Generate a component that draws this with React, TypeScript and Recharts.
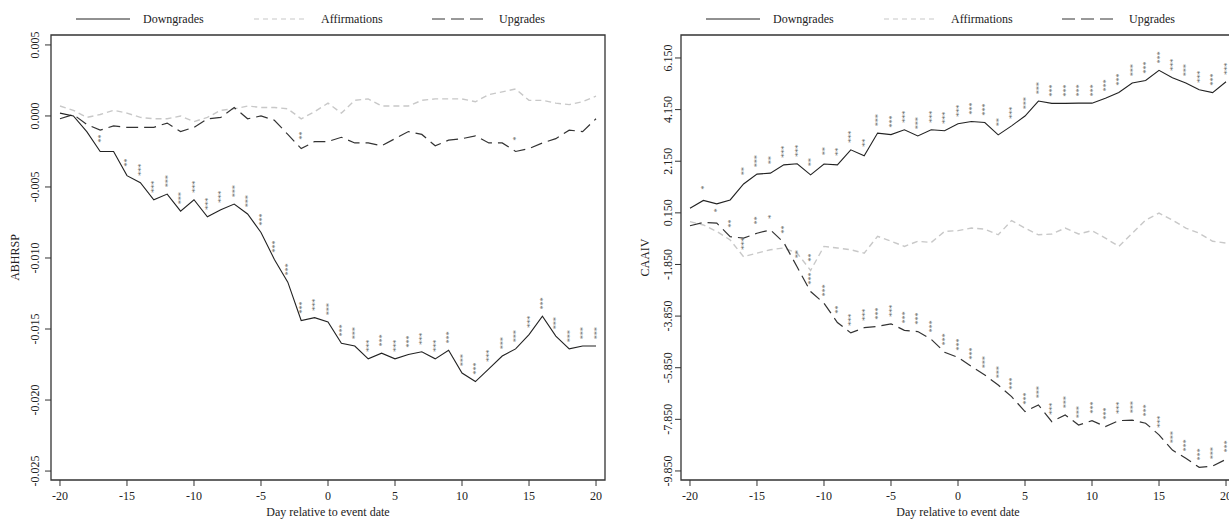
import { LabelList, Line, LineChart, ReferenceArea, XAxis, YAxis } from 'recharts';

const FONT = "'Liberation Serif', 'Times New Roman', serif";

const days = [
  -20, -19, -18, -17, -16, -15, -14, -13, -12, -11, -10, -9, -8, -7, -6, -5, -4, -3, -2, -1, 0,
  1, 2, 3, 4, 5, 6, 7, 8, 9, 10, 11, 12, 13, 14, 15, 16, 17, 18, 19, 20,
];
const dayTicks = [-20, -15, -10, -5, 0, 5, 10, 15, 20];

// left panel: ABHRSP
const abhrspTicks = [-0.025, -0.02, -0.015, -0.01, -0.005, 0, 0.005];
const abhrspDowngrades = [
  0.0002, 0.0, -0.0011, -0.0025, -0.0025, -0.0042, -0.0047, -0.0059, -0.0055, -0.0067, -0.0059,
  -0.0071, -0.0066, -0.0062, -0.0069, -0.0082, -0.0101, -0.0117, -0.0144, -0.0142, -0.0145,
  -0.016, -0.0162, -0.0171, -0.0167, -0.0171, -0.0168, -0.0166, -0.0171, -0.0165, -0.0181,
  -0.0187, -0.0178, -0.0169, -0.0164, -0.0154, -0.0141, -0.0155, -0.0164, -0.0162, -0.0162,
];
const abhrspAffirmations = [
  0.0007, 0.0004, -0.0001, 0.0001, 0.0004, 0.0002, -0.0001, -0.0002, -0.0002, 0.0, -0.0004,
  -0.0001, 0.0004, 0.0005, 0.0007, 0.0006, 0.0006, 0.0005, -0.0002, 0.0003, 0.0009,
  0.0002, 0.0011, 0.0012, 0.0007, 0.0007, 0.0007, 0.0011, 0.0012, 0.0012, 0.0012,
  0.001, 0.0015, 0.0017, 0.0019, 0.0011, 0.0011, 0.0009, 0.0008, 0.001, 0.0014,
];
const abhrspUpgrades = [
  -0.0002, 0.0001, -0.0006, -0.001, -0.0007, -0.0008, -0.0008, -0.0008, -0.0005, -0.0011, -0.0008,
  -0.0002, -0.0001, 0.0006, -0.0002, 0.0, -0.0003, -0.0013, -0.0023, -0.0018, -0.0018,
  -0.0015, -0.0019, -0.0019, -0.0021, -0.0016, -0.0011, -0.0013, -0.0021, -0.0017, -0.0016,
  -0.0014, -0.0019, -0.0019, -0.0025, -0.0023, -0.0019, -0.0016, -0.001, -0.0011, -0.0002,
];
const abhrspDownSig = [
  '', '', '', '**', '', '**', '***', '***', '***', '***', '***',
  '***', '***', '***', '***', '***', '***', '***', '***', '***', '***',
  '***', '***', '***', '***', '***', '***', '***', '***', '***', '***',
  '***', '***', '***', '***', '***', '***', '***', '***', '***', '***',
];
const abhrspAffSig = [
  '', '', '', '', '', '', '', '', '', '', '',
  '', '', '', '', '', '', '', '', '', '',
  '', '', '', '', '', '', '', '', '', '',
  '', '', '', '', '', '', '', '', '', '',
];
const abhrspUpSig = [
  '', '', '', '', '', '', '', '', '', '', '',
  '', '', '', '', '', '', '', '**', '', '',
  '', '', '', '', '', '', '', '', '', '',
  '', '', '', '*', '', '', '', '', '', '',
];

// right panel: CAAIV
const caaivTicks = [-9.85, -7.85, -5.85, -3.85, -1.85, 0.15, 2.15, 4.15, 6.15];
const caaivDowngrades = [
  0.33, 0.63, 0.5, 0.65, 1.27, 1.65, 1.69, 2.01, 2.05, 1.62, 2.04,
  2.01, 2.59, 2.36, 3.24, 3.18, 3.37, 3.13, 3.37, 3.33, 3.6,
  3.69, 3.65, 3.17, 3.52, 3.9, 4.48, 4.39, 4.39, 4.4, 4.4,
  4.59, 4.81, 5.18, 5.28, 5.67, 5.38, 5.18, 4.92, 4.81, 5.23,
];
const caaivAffirmations = [
  -0.19, -0.32, -0.57, -0.9, -1.55, -1.41, -1.28, -1.21, -1.41, -2.08, -1.15,
  -1.21, -1.28, -1.41, -0.76, -0.95, -1.15, -0.95, -1.0, -0.57, -0.54,
  -0.44, -0.48, -0.7, -0.15, -0.44, -0.7, -0.67, -0.44, -0.67, -0.54,
  -0.83, -1.15, -0.64, -0.13, 0.14, -0.13, -0.44, -0.64, -0.95, -1.02,
];
const caaivUpgrades = [
  -0.35, -0.22, -0.25, -0.77, -0.83, -0.64, -0.51, -1.0, -1.95, -2.9, -3.35,
  -4.1, -4.5, -4.3, -4.25, -4.15, -4.4, -4.45, -4.75, -5.25, -5.45,
  -5.8, -6.13, -6.52, -6.97, -7.55, -7.29, -7.94, -7.68, -8.07, -7.9,
  -8.13, -7.9, -7.88, -8.0, -8.45, -9.04, -9.36, -9.71, -9.66, -9.4,
];
const caaivDownSig = [
  '', '*', '', '', '**', '***', '**', '***', '***', '**', '**',
  '**', '***', '**', '***', '***', '***', '***', '***', '***', '***',
  '***', '***', '**', '***', '***', '***', '***', '***', '***', '***',
  '***', '***', '***', '***', '***', '***', '***', '***', '***', '***',
];
const caaivAffSig = [
  '', '', '', '', '***', '', '', '', '', '**', '',
  '', '', '', '', '', '', '', '', '', '',
  '', '', '', '', '', '', '', '', '', '',
  '', '', '', '', '', '', '', '', '', '',
];
const caaivUpSig = [
  '', '', '*', '**', '', '**', '*', '**', '**', '***', '***',
  '**', '***', '***', '***', '***', '***', '***', '***', '***', '***',
  '***', '***', '***', '***', '***', '***', '***', '***', '***', '***',
  '***', '***', '***', '***', '***', '***', '***', '***', '***', '***',
];

const X_DOMAIN: [number, number] = [-20.67, 20.67];

function StarLabel(props: any) {
  const { value } = props;
  if (!value) return null;
  const x = Number(props.x) - 3;
  const y = Number(props.y) - 13;
  return (
    <text
      x={x}
      y={y}
      transform={`rotate(90, ${x}, ${y})`}
      textAnchor="middle"
      dominantBaseline="central"
      fontSize={8}
      fontFamily={FONT}
      fill="#555"
    >
      {value}
    </text>
  );
}

function YTick(props: any) {
  const { payload, digits, shift } = props;
  const x = Number(props.x) - shift;
  const y = Number(props.y);
  return (
    <text
      x={x}
      y={y}
      transform={`rotate(-90, ${x}, ${y})`}
      textAnchor="middle"
      dominantBaseline="central"
      fontSize={12}
      fontFamily={FONT}
      fill="#222"
    >
      {Number(payload.value).toFixed(digits)}
    </text>
  );
}

function YTitle(props: any) {
  const vb = props.viewBox ?? { x: 0, y: 35, width: 51, height: 445 };
  const x = vb.x + props.dx;
  const y = vb.y + vb.height / 2;
  return (
    <text
      x={x}
      y={y}
      transform={`rotate(-90, ${x}, ${y})`}
      textAnchor="middle"
      dominantBaseline="central"
      fontSize={12}
      fontFamily={FONT}
      fill="#222"
    >
      {props.text}
    </text>
  );
}

function XTitle(props: any) {
  const vb = props.viewBox ?? { x: 51, y: 480, width: 554, height: 39 };
  return (
    <text
      x={vb.x + vb.width / 2}
      y={vb.y + 36}
      textAnchor="middle"
      fontSize={12}
      fontFamily={FONT}
      fill="#222"
    >
      Day relative to event date
    </text>
  );
}

const legendItems = [
  { label: 'Downgrades', stroke: '#222', dash: undefined, w: 1 },
  { label: 'Affirmations', stroke: '#c8c8c8', dash: '5 4', w: 1.2 },
  { label: 'Upgrades', stroke: '#333', dash: '13 6', w: 1 },
];

function LegendStrip({ x0, width }: { x0: number; width: number }) {
  return (
    <svg width={width} height={35} style={{ position: 'absolute', left: 0, top: 0 }}>
      {legendItems.map((it, i) => {
        const x = x0 + i * 178;
        return (
          <g key={it.label}>
            <line x1={x} x2={x + 54} y1={19} y2={19} stroke={it.stroke} strokeWidth={it.w} strokeDasharray={it.dash} />
            <text x={x + 67} y={19} dominantBaseline="central" fontSize={12} fontFamily={FONT} fill="#222">
              {it.label}
            </text>
          </g>
        );
      })}
    </svg>
  );
}

type PanelProps = {
  left: number;
  width: number;
  axisWidth: number;
  yTitle: string;
  titleX: number;
  tickShift: number;
  domain: [number, number];
  ticks: number[];
  digits: number;
  down: number[];
  aff: number[];
  up: number[];
  downSig: string[];
  affSig: string[];
  upSig: string[];
};

function Panel(p: PanelProps) {
  const data = days.map((day, i) => ({
    day,
    down: p.down[i],
    aff: p.aff[i],
    up: p.up[i],
    downSig: p.downSig[i],
    affSig: p.affSig[i],
    upSig: p.upSig[i],
  }));
  const tickStyle = { fontSize: 12, fill: '#222', fontFamily: FONT };

  return (
    <div style={{ position: 'absolute', left: p.left, top: 0, width: p.width, height: 519 }}>
      <LineChart width={p.width} height={519} data={data} margin={{ top: 35, right: 10, bottom: 0, left: 0 }}>
        <XAxis
          type="number"
          dataKey="day"
          domain={X_DOMAIN}
          ticks={dayTicks}
          interval={0}
          allowDataOverflow
          axisLine={false}
          tickLine={{ stroke: '#333' }}
          tickSize={6}
          tickMargin={5}
          height={39}
          tick={tickStyle}
          label={<XTitle />}
        />
        <YAxis
          type="number"
          domain={p.domain}
          ticks={p.ticks}
          interval={0}
          allowDataOverflow
          axisLine={false}
          tickLine={{ stroke: '#333' }}
          tickSize={6}
          tickMargin={4}
          width={p.axisWidth}
          tick={(t: any) => <YTick {...t} digits={p.digits} shift={p.tickShift} />}
          label={<YTitle text={p.yTitle} dx={p.titleX} />}
        />
        <ReferenceArea
          x1={X_DOMAIN[0]}
          x2={X_DOMAIN[1]}
          y1={p.domain[0]}
          y2={p.domain[1]}
          fill="none"
          stroke="#333"
          strokeWidth={1.3}
          ifOverflow="visible"
        />
        <Line
          type="linear"
          dataKey="aff"
          stroke="#c8c8c8"
          strokeWidth={1.4}
          strokeDasharray="6 4"
          dot={false}
          isAnimationActive={false}
        >
          <LabelList dataKey="affSig" content={StarLabel} />
        </Line>
        <Line
          type="linear"
          dataKey="up"
          stroke="#333"
          strokeWidth={1.2}
          strokeDasharray="12 6"
          dot={false}
          isAnimationActive={false}
        >
          <LabelList dataKey="upSig" content={StarLabel} />
        </Line>
        <Line type="linear" dataKey="down" stroke="#222" strokeWidth={1.1} dot={false} isAnimationActive={false}>
          <LabelList dataKey="downSig" content={StarLabel} />
        </Line>
      </LineChart>
      <LegendStrip x0={p.axisWidth + 25} width={p.width} />
    </div>
  );
}

export default function App() {
  return (
    <div
      style={{
        position: 'absolute',
        left: 0,
        top: 0,
        width: 1229,
        height: 519,
        overflow: 'hidden',
        background: '#fff',
      }}
    >
      <Panel
        left={0}
        width={615}
        axisWidth={51}
        yTitle="ABHRSP"
        titleX={15}
        tickShift={6}
        domain={[-0.02563, 0.0057]}
        ticks={abhrspTicks}
        digits={3}
        down={abhrspDowngrades}
        aff={abhrspAffirmations}
        up={abhrspUpgrades}
        downSig={abhrspDownSig}
        affSig={abhrspAffSig}
        upSig={abhrspUpSig}
      />
      <Panel
        left={615}
        width={630}
        axisWidth={66}
        yTitle="CAAIV"
        titleX={30}
        tickShift={3}
        domain={[-10.2, 7.04]}
        ticks={caaivTicks}
        digits={3}
        down={caaivDowngrades}
        aff={caaivAffirmations}
        up={caaivUpgrades}
        downSig={caaivDownSig}
        affSig={caaivAffSig}
        upSig={caaivUpSig}
      />
    </div>
  );
}
